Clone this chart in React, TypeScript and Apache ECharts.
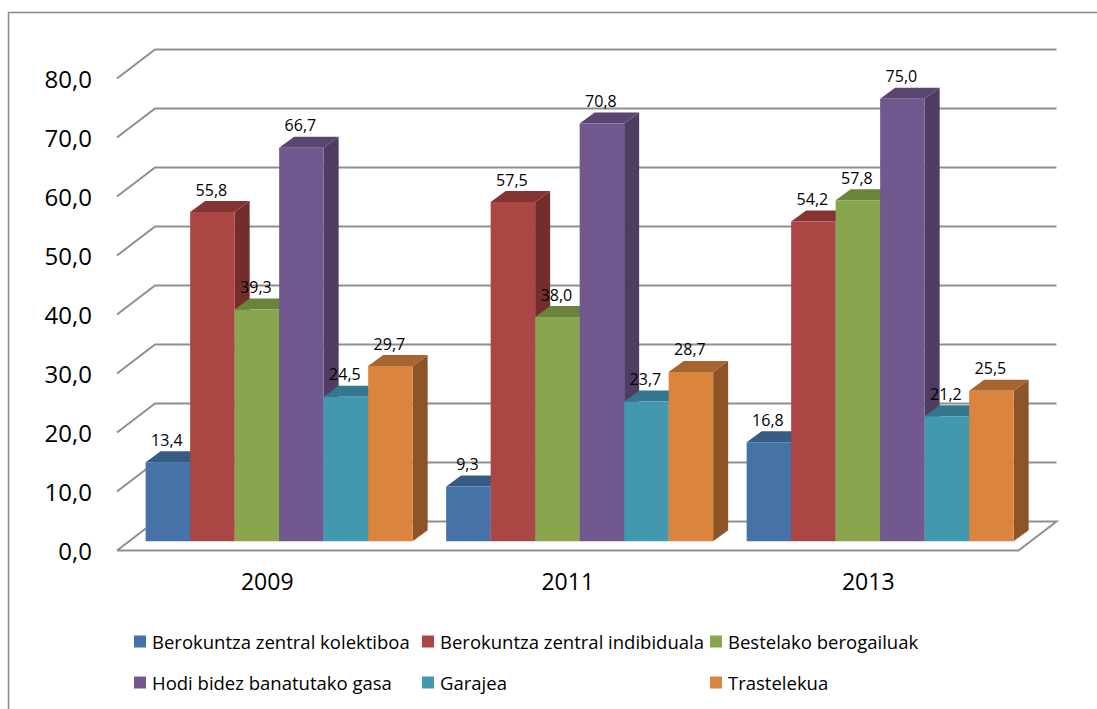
import React, { useEffect, useRef } from "react";
import * as echarts from "echarts";

const categories = ["2009", "2011", "2013"];
const seriesNames = [
  "Berokuntza zentral kolektiboa",
  "Berokuntza zentral indibiduala",
  "Bestelako berogailuak",
  "Hodi bidez banatutako gasa",
  "Garajea",
  "Trastelekua",
];
const kolektiboa = [13.4, 9.3, 16.8];
const indibiduala = [55.8, 57.5, 54.2];
const bestelako = [39.3, 38.0, 57.8];
const hodi = [66.7, 70.8, 75.0];
const garajea = [24.5, 23.7, 21.2];
const trastelekua = [29.7, 28.7, 25.5];
const allValues = [kolektiboa, indibiduala, bestelako, hodi, garajea, trastelekua];
const gridTicks = [0, 10, 20, 30, 40, 50, 60, 70, 80];

const frontColors = ["#4573a7", "#aa4643", "#89a54e", "#71588f", "#4198af", "#db843d"];
const topColors = ["#365c86", "#843432", "#6c833c", "#594570", "#33788c", "#a66530"];
const sideColors = ["#2f5075", "#732e2b", "#5f7335", "#4e3c62", "#2d697a", "#8c5428"];

const legendPos = [
  [134, 632], [422, 632], [710, 632],
  [134, 673], [422, 673], [710, 673],
];

const WALL_DX = 38;
const WALL_DY = 29;
const BAR_DX = 11.9;
const BAR_DY = 9.2;
const DEPTH_X = 15;
const DEPTH_Y = 11;
const BAR_W = 44.5;
const FONT = "'Open Sans', Lato, sans-serif";

const fmt = (v: number) => v.toFixed(1).replace(".", ",");

function gridItem(params: any, api: any) {
  const cs = params.coordSys;
  const v = api.value(1);
  const y = api.coord([0, v])[1];
  const x0 = cs.x;
  const x1 = cs.x + cs.width;
  const pts: number[][] = [
    [x0, y],
    [x0 + WALL_DX, y - WALL_DY],
    [x1 + WALL_DX, y - WALL_DY],
  ];
  if (v === 0) {
    pts.push([x1, y], [x0, y]);
  }
  return {
    type: "polyline",
    shape: { points: pts },
    style: { stroke: "#8f8f8f", lineWidth: 2, fill: "none" },
    silent: true,
  };
}

function barRenderer(idx: number) {
  return (_params: any, api: any) => {
    const c = api.value(0);
    const v = api.value(1);
    const top = api.coord([c, v]);
    const base = api.coord([c, 0]);
    const x = top[0] + BAR_DX + (idx - 3) * BAR_W;
    const y = top[1] - BAR_DY;
    const b = base[1] - BAR_DY;
    const r = x + BAR_W;
    return {
      type: "group",
      children: [
        {
          type: "polygon",
          shape: { points: [[r, y], [r + DEPTH_X, y - DEPTH_Y], [r + DEPTH_X, b - DEPTH_Y], [r, b]] },
          style: { fill: sideColors[idx] },
        },
        {
          type: "polygon",
          shape: { points: [[x, y], [x + DEPTH_X, y - DEPTH_Y], [r + DEPTH_X, y - DEPTH_Y], [r, y]] },
          style: { fill: topColors[idx] },
        },
        {
          type: "rect",
          shape: { x, y, width: BAR_W, height: b - y },
          style: { fill: frontColors[idx] },
        },
        {
          type: "text",
          x: x + BAR_W / 2 - 1,
          y: y - 22.5,
          z2: 10,
          style: {
            text: fmt(v),
            fill: "#000",
            font: `16px ${FONT}`,
            align: "center",
            verticalAlign: "middle",
          },
        },
      ],
    };
  };
}

export default function App() {
  const ref = useRef<HTMLDivElement>(null);
  useEffect(() => {
    const chart = echarts.init(ref.current!, undefined, { renderer: "svg" });
    chart.setOption({
      animation: false,
      backgroundColor: "#fff",
      grid: { left: 117, top: 78.5, width: 901.5, height: 472 },
      xAxis: {
        type: "category",
        data: categories,
        axisLine: { show: false },
        axisTick: { show: false },
        axisLabel: { color: "#000", fontSize: 23, fontFamily: FONT, margin: 19 },
      },
      yAxis: {
        type: "value",
        min: 0,
        max: 80,
        interval: 10,
        splitLine: { show: false },
        axisLine: { show: false },
        axisTick: { show: false },
        axisLabel: {
          color: "#000",
          fontSize: 24,
          fontFamily: FONT,
          margin: 25,
          formatter: (v: number) => fmt(v),
        },
      },
      legend: seriesNames.map((n, i) => ({
        data: [n],
        left: legendPos[i][0],
        top: legendPos[i][1],
        icon: "rect",
        itemWidth: 12,
        itemHeight: 12,
        itemGap: 0,
        padding: 0,
        selectedMode: false,
        textStyle: { color: "#000", fontSize: 18.5, fontFamily: FONT, padding: [0, 0, 0, 1] },
      })),
      graphic: [
        {
          type: "rect",
          shape: { x: 8.5, y: 12.5, width: 1200, height: 800 },
          style: { fill: "none", stroke: "#868686", lineWidth: 1.5 },
          silent: true,
        },
      ],
      series: [
        {
          type: "custom",
          name: "grid",
          renderItem: gridItem,
          data: gridTicks.map((t) => [0, t]),
          clip: false,
          silent: true,
          z: 1,
        },
        ...seriesNames.map((n, i) => ({
          type: "custom",
          name: n,
          renderItem: barRenderer(i),
          data: allValues[i].map((v, c) => [c, v]),
          itemStyle: { color: frontColors[i] },
          clip: false,
          z: 2 + i,
        })),
      ],
    });
    return () => chart.dispose();
  }, []);
  return (
    <div
      ref={ref}
      style={{ position: "fixed", left: 0, top: 0, width: 1097, height: 709 }}
    />
  );
}
